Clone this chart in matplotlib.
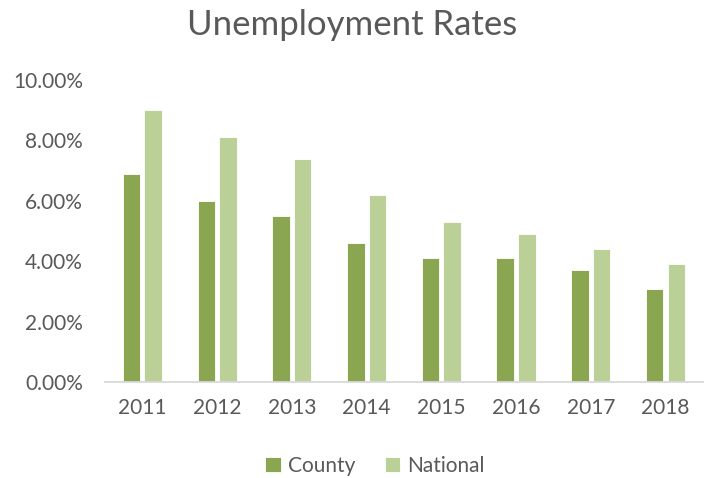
import matplotlib.pyplot as plt
import numpy as np
from matplotlib.ticker import FuncFormatter

years = ['2011', '2012', '2013', '2014', '2015', '2016', '2017', '2018']
county = [6.9, 6.0, 5.5, 4.6, 4.1, 4.1, 3.7, 3.1]
national = [9.0, 8.1, 7.4, 6.2, 5.3, 4.9, 4.4, 3.9]

c_county = '#8BA650'
c_national = '#BBD097'
txt = '#595959'

plt.rcParams['font.family'] = ['Lato', 'DejaVu Sans']

fig = plt.figure(figsize=(7.05, 4.78), dpi=100)
ax = fig.add_axes([0.149, 0.2002, 0.848, 0.6324])

x = np.arange(len(years))
w = 0.235
off = 0.145
ax.bar(x - off, county, w, color=c_county, edgecolor='white', linewidth=0.6, label='County')
ax.bar(x + off, national, w, color=c_national, edgecolor='white', linewidth=0.6, label='National')

ax.set_xlim(-0.5, len(years) - 0.5)
ax.set_ylim(0, 10)
ax.set_yticks(np.arange(0, 10.1, 2))
ax.yaxis.set_major_formatter(FuncFormatter(lambda v, p: '%.2f%%' % v))
ax.set_xticks(x)
ax.set_xticklabels(years)

for s in ['top', 'right', 'left']:
    ax.spines[s].set_visible(False)
ax.spines['bottom'].set_color('#D9D9D9')
ax.spines['bottom'].set_linewidth(1.3)
ax.tick_params(axis='both', length=0, labelsize=15, colors=txt)
ax.tick_params(axis='y', pad=16)
ax.tick_params(axis='x', pad=11)

fig.text(0.5, 0.948, 'Unemployment Rates', ha='center', va='center', fontsize=25, color=txt)

fig.legend(loc='center', bbox_to_anchor=(0.532, 0.025), ncol=2, frameon=False,
           fontsize=15, labelcolor=txt, handlelength=0.75, handleheight=0.75,
           handletextpad=0.35, columnspacing=1.4)

fig.savefig('out.png', dpi=100)
